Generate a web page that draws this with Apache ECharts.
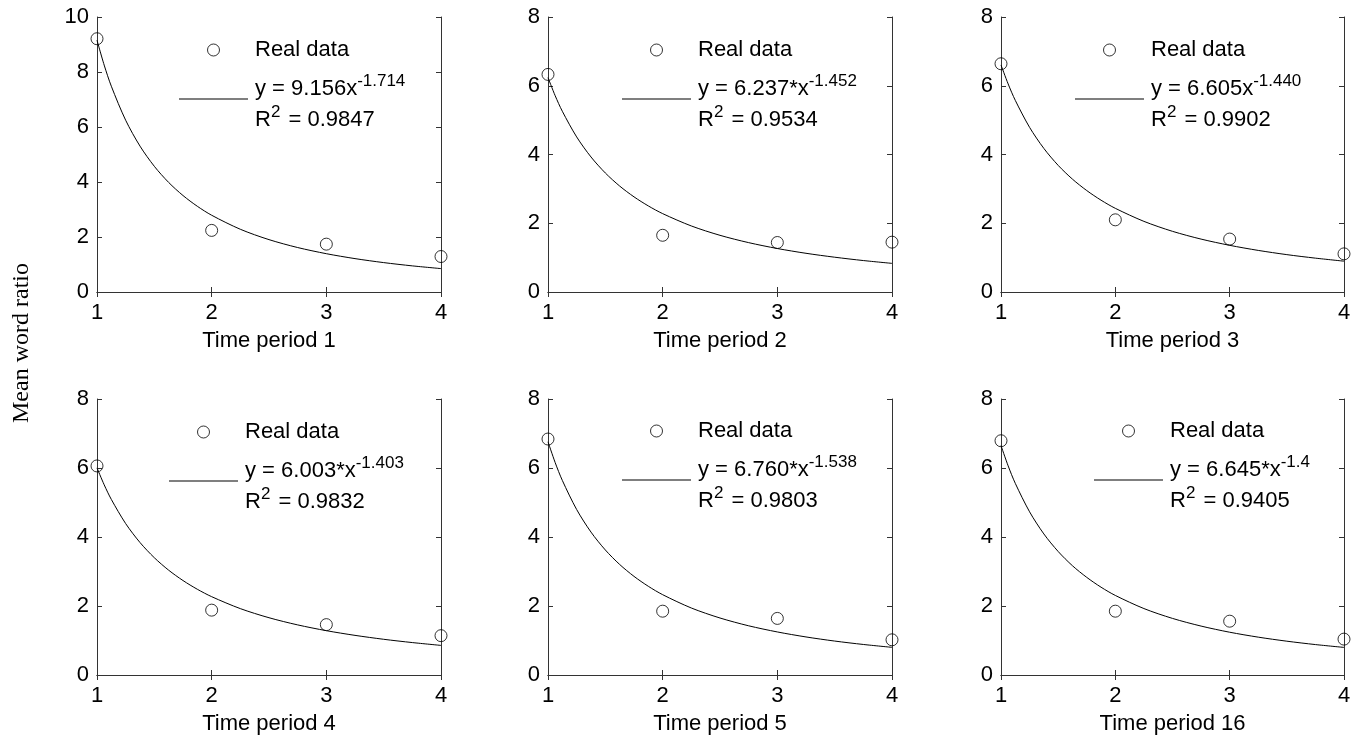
<!DOCTYPE html>
<html>
<head>
<meta charset="utf-8">
<script src="https://cdn.jsdelivr.net/npm/echarts@6/dist/echarts.min.js"></script>
<style>
  html, body { margin: 0; background: #fff; }
  #chart { width: 1354px; height: 738px; }
</style>
</head>
<body>
<div id="chart"></div>
<script>
// Mean word ratio per time period, with power-law fits
// ====================================================

const periods = ['Time period 1', 'Time period 2', 'Time period 3', 'Time period 4', 'Time period 5', 'Time period 16']
const xTicks = [1, 2, 3, 4]
const yMax = [10, 8, 8, 8, 8, 8]

// circles (real data), one row per panel, at x = 1..4
const realData = [
  [9.21, 2.24, 1.74, 1.29],
  [6.33, 1.65, 1.44, 1.45],
  [6.64, 2.10, 1.54, 1.11],
  [6.06, 1.88, 1.46, 1.14],
  [6.84, 1.85, 1.64, 1.02],
  [6.79, 1.85, 1.56, 1.04],
]

// fitted curve
const curveX = [1, 1.0625, 1.125, 1.25, 1.375, 1.5, 1.625, 1.75, 1.875, 2, 2.25, 2.5, 2.75, 3, 3.25, 3.5, 3.75, 4]
const fitY = [
  [9.156, 8.252, 7.482, 6.246, 5.305, 4.570, 3.984, 3.508, 3.117, 2.791, 2.281, 1.904, 1.617, 1.393, 1.214, 1.069, 0.950, 0.851],
  [6.237, 5.711, 5.257, 4.511, 3.928, 3.462, 3.082, 2.768, 2.504, 2.280, 1.921, 1.649, 1.436, 1.265, 1.126, 1.012, 0.915, 0.833],
  [6.605, 6.053, 5.575, 4.790, 4.176, 3.684, 3.283, 2.951, 2.671, 2.434, 2.055, 1.765, 1.539, 1.358, 1.210, 1.087, 0.985, 0.897],
  [6.003, 5.514, 5.089, 4.389, 3.840, 3.399, 3.038, 2.738, 2.485, 2.270, 1.924, 1.660, 1.452, 1.285, 1.149, 1.035, 0.940, 0.858],
  [6.760, 6.158, 5.640, 4.796, 4.142, 3.624, 3.204, 2.859, 2.571, 2.328, 1.942, 1.652, 1.426, 1.248, 1.103, 0.984, 0.885, 0.802],
  [6.650, 6.062, 5.555, 4.730, 4.088, 3.580, 3.167, 2.830, 2.545, 2.306, 1.926, 1.640, 1.418, 1.240, 1.097, 0.980, 0.882, 0.800],
]

// legend text
const eqText = ['y = 9.156x', 'y = 6.237*x', 'y = 6.605x', 'y = 6.003*x', 'y = 6.760*x', 'y = 6.645*x']
const expText = ['-1.714', '-1.452', '-1.440', '-1.403', '-1.538', '-1.4']
const r2Text = ['0.9847', '0.9534', '0.9902', '0.9832', '0.9803', '0.9405']

// layout (pixels)
const gridLeft = [97, 548, 1001, 97, 548, 1001]
const gridTop = [17, 17, 17, 399, 399, 399]
const gridW = [344, 344, 343, 344, 344, 343]
const gridH = [275, 275, 275, 276, 276, 276]
const legLeft = [179, 622, 1075, 169, 622, 1094]
const legTop = [39, 39, 39, 421, 420, 420]

const FONT = '"Liberation Sans", Arial, sans-serif'
const AXIS_COLOR = '#333'

const grids = []
const xAxes = []
const yAxes = []
const series = []
const legends = []

periods.forEach((p, i) => {
  grids.push({
    left: gridLeft[i], top: gridTop[i], width: gridW[i], height: gridH[i],
  })
  const tick = { show: true, inside: true, length: 5, lineStyle: { color: AXIS_COLOR } }
  const line = { show: true, lineStyle: { color: AXIS_COLOR, width: 1 } }
  // bottom + top x axis
  xAxes.push({
    gridIndex: i, type: 'value', min: xTicks[0], max: xTicks[xTicks.length - 1], interval: 1,
    axisLine: line, axisTick: tick, splitLine: { show: false },
    axisLabel: { fontSize: 22, color: '#000', fontFamily: FONT, margin: 10 },
    name: p, nameLocation: 'middle', nameGap: 38,
    nameTextStyle: { fontSize: 22, color: '#000', fontFamily: FONT },
  })
  xAxes.push({
    gridIndex: i, type: 'value', position: 'top', min: xTicks[0], max: xTicks[xTicks.length - 1], interval: 1,
    axisLine: line, axisTick: tick, splitLine: { show: false }, axisLabel: { show: false },
  })
  // left + right y axis
  yAxes.push({
    gridIndex: i, type: 'value', min: 0, max: yMax[i], interval: 2,
    axisLine: line, axisTick: tick, splitLine: { show: false },
    axisLabel: { fontSize: 22, color: '#000', fontFamily: FONT, margin: 8 },
  })
  yAxes.push({
    gridIndex: i, type: 'value', position: 'right', min: 0, max: yMax[i], interval: 2,
    axisLine: line, axisTick: tick, splitLine: { show: false }, axisLabel: { show: false },
  })

  series.push({
    type: 'line',
    name: 'fit' + i,
    xAxisIndex: 2 * i, yAxisIndex: 2 * i,
    data: curveX.map((x, k) => [x, fitY[i][k]]),
    smooth: 0.3,
    symbol: 'none',
    lineStyle: { color: '#000', width: 1 },
    itemStyle: { color: '#000' },
    silent: true,
  })
  series.push({
    type: 'scatter',
    name: 'Real data',
    xAxisIndex: 2 * i, yAxisIndex: 2 * i,
    data: xTicks.map((x, k) => [x, realData[i][k]]),
    symbol: 'circle',
    symbolSize: 12,
    itemStyle: { color: 'transparent', borderColor: '#000', borderWidth: 1 },
    z: 3,
  })

  legends.push({
    orient: 'vertical',
    left: legLeft[i],
    top: legTop[i],
    padding: 0,
    itemGap: 12,
    itemWidth: 69,
    itemHeight: 12,
    selectedMode: false,
    data: [
      { name: 'Real data', icon: 'circle', itemStyle: { color: 'transparent', borderColor: '#000', borderWidth: 1 } },
      {
        name: 'fit' + i, icon: 'path://M0,0H69V1H0Z',
        itemStyle: { color: '#000', borderWidth: 0 },
        textStyle: { padding: [10, 0, 0, 0] },
      },
    ],
    formatter: name => {
      if (name === 'Real data') return '{t|Real data}'
      return `{t|${eqText[i]}}{s|${expText[i]}}\n{t|R}{s|2}{t| = ${r2Text[i]}}`
    },
    textStyle: {
      fontFamily: FONT, fontSize: 22, color: '#000',
      rich: {
        t: { fontFamily: FONT, fontSize: 22, lineHeight: 31, color: '#000', padding: [0, 0, 0, 2] },
        s: { fontFamily: FONT, fontSize: 17, lineHeight: 31, verticalAlign: 'top', color: '#000' },
      },
    },
  })
})

const chart = echarts.init(document.getElementById('chart'), null, { renderer: 'canvas' })
chart.setOption({
  animation: false,
  backgroundColor: '#fff',
  grid: grids,
  xAxis: xAxes,
  yAxis: yAxes,
  legend: legends,
  series: series,
  graphic: [{
    type: 'text',
    x: 22, y: 343,
    rotation: Math.PI / 2,
    style: {
      text: 'Mean word ratio',
      fontFamily: '"Liberation Serif", "Times New Roman", serif',
      fontSize: 24,
      fill: '#000',
      align: 'center',
      verticalAlign: 'middle',
    },
  }],
})
</script>
</body>
</html>
